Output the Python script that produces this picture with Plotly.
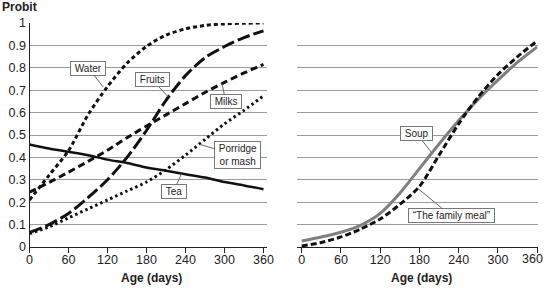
import plotly.graph_objects as go

days = [0, 30, 60, 90, 120, 150, 180, 210, 240, 270, 300, 330, 360]

water = [0.21, 0.32, 0.43, 0.59, 0.716, 0.82, 0.896, 0.946, 0.974, 0.989, 0.996, 0.999, 1.0]
fruits = [0.065, 0.10, 0.15, 0.22, 0.30, 0.40, 0.52, 0.655, 0.765, 0.845, 0.895, 0.935, 0.965]
milks = [0.245, 0.288, 0.334, 0.382, 0.432, 0.488, 0.54, 0.59, 0.64, 0.69, 0.735, 0.777, 0.815]
porridge = [0.06, 0.09, 0.13, 0.17, 0.21, 0.25, 0.29, 0.345, 0.41, 0.48, 0.55, 0.61, 0.675]
tea = [0.458, 0.44, 0.425, 0.41, 0.39, 0.375, 0.355, 0.34, 0.325, 0.31, 0.29, 0.275, 0.258]
soup = [0.027, 0.045, 0.066, 0.097, 0.15, 0.24, 0.35, 0.46, 0.565, 0.66, 0.745, 0.825, 0.893]
family = [0.005, 0.02, 0.045, 0.08, 0.125, 0.19, 0.27, 0.41, 0.55, 0.67, 0.77, 0.85, 0.92]

x_ticks = [0, 60, 120, 180, 240, 300, 360]
x_ticktext = ["0", "60", "120", "180", "240", "300", "360"]
y_ticks = [0, 0.1, 0.2, 0.3, 0.4, 0.5, 0.6, 0.7, 0.8, 0.9, 1]
y_ticktext = ["0", "0.1", "0.2", "0.3", "0.4", "0.5", "0.6", "0.7", "0.8", "0.9", "1"]

FONT = "Liberation Sans, Arial, sans-serif"
W, H = 545, 293
ML, MR, MT, MB = 29, 7, 23, 46
PW, PH = W - ML - MR, H - MT - MB


def px_x(px):
    return (px - ML) / PW


def px_y(py):
    return (H - MB - py) / PH


fig = go.Figure()


def add(y, xa, ya, color, width, dash):
    fig.add_trace(go.Scatter(x=days, y=y, mode="lines", xaxis=xa, yaxis=ya,
                             line=dict(color=color, width=width, dash=dash,
                                       shape="spline", smoothing=0.8),
                             showlegend=False, hoverinfo="skip"))


add(tea, "x", "y", "#111", 2.5, "solid")
add(porridge, "x", "y", "#111", 3, "2.5px,3px")
add(milks, "x", "y", "#111", 3, "7px,4px")
add(fruits, "x", "y", "#111", 3, "13px,4px")
add(water, "x", "y", "#111", 3, "4px,3px")
add(soup, "x2", "y2", "#7f7f7f", 3, "solid")
add(family, "x2", "y2", "#111", 3, "6px,3px")

TICKFONT = dict(family=FONT, size=12.5, color="#222")
ax_common = dict(tickvals=x_ticks, ticks="outside", ticklen=5, tickcolor="#222",
                 showline=True, linecolor="#222", linewidth=1, showgrid=False,
                 zeroline=False, automargin=False, ticklabelstandoff=-4,
                 tickfont=TICKFONT)
ay_common = dict(range=[0, 1], tickvals=y_ticks, showgrid=True, gridcolor="#9a9a9a",
                 gridwidth=1, zeroline=False, automargin=False, tickfont=TICKFONT)

# right panel: last label is drawn separately so it stays inside the page edge
right_text = x_ticktext[:-1] + [""]

fig.update_layout(
    width=W, height=H, margin=dict(l=ML, r=MR, t=MT, b=MB, autoexpand=False),
    plot_bgcolor="white", paper_bgcolor="white",
    xaxis=dict(domain=[px_x(29.5), px_x(267)], range=[0, 365.4], anchor="y",
               ticktext=x_ticktext, **ax_common),
    yaxis=dict(domain=[0, 1], anchor="x", ticktext=y_ticktext,
               showline=True, linecolor="#222", linewidth=1, ticks="", **ay_common),
    xaxis2=dict(domain=[px_x(297), px_x(537.5)], range=[-7.2, 360.5], anchor="y2",
                ticktext=right_text, **ax_common),
    yaxis2=dict(domain=[0, 1], anchor="x2", showticklabels=False,
                showline=False, ticks="", **ay_common),
)

fig.add_annotation(text=x_ticktext[-1], x=px_x(544.5), y=px_y(258.5), xref="paper", yref="paper",
                   xanchor="right", yanchor="middle", showarrow=False, font=TICKFONT)


def label(text, x, y, ax, ay, xref="x", yref="y"):
    padded = "<br>".join("\u00a0" + part + "\u00a0" for part in text.split("<br>"))
    fig.add_annotation(text=padded, x=x, y=y, xref=xref, yref=yref, ax=ax, ay=ay,
                       showarrow=True, arrowhead=0, arrowwidth=1, arrowcolor="#666",
                       bordercolor="#777", borderwidth=1, borderpad=1, bgcolor="white",
                       align="center", font=dict(family=FONT, size=10, color="#222"))


label("Water", 113.5, 0.714, -15, -19)
label("Fruits", 213.5, 0.67, -16, -17)
label("Milks", 296, 0.73, 4, 18)
label("Porridge<br>or mash", 262, 0.458, 38, 11)
label("Tea", 234, 0.328, -8, 18)
label("Soup", 199, 0.42, -15, -19, "x2", "y2")
label("\u201cThe family meal\u201d", 178, 0.26, 33, 27, "x2", "y2")

for cx in (151, 421):
    fig.add_annotation(text="<b>Age (days)</b>", x=px_x(cx), y=px_y(278), xref="paper", yref="paper",
                       xanchor="center", yanchor="middle", showarrow=False,
                       font=dict(family=FONT, size=12, color="#222"))
fig.add_annotation(text="<b>Probit</b>", x=px_x(0), y=px_y(7), xref="paper", yref="paper",
                   xanchor="left", yanchor="middle", showarrow=False,
                   font=dict(family=FONT, size=12, color="#222"))

fig.write_html("out.html")
